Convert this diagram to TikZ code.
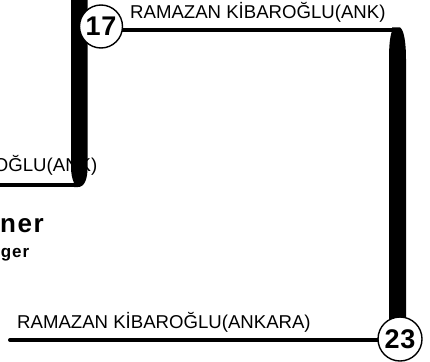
\documentclass[tikz,border=0pt]{standalone}
\usepackage{fontspec}
\setmainfont{Liberation Sans}
\pgfdeclareradialshading{badgeball}{\pgfpoint{0bp}{8bp}}{
 color(0bp)=(white); color(36bp)=(white); color(44bp)=(black!28); color(51bp)=(black!70); color(60bp)=(black)}
\tikzset{
 lbl/.style={font=\fontsize{18.6pt}{20pt}\selectfont,text=black,inner sep=0pt},
 boldlbl/.style={text=black,inner sep=0pt},
 thinline/.style={line width=4pt,black},
 thickline/.style={fill=black,draw=none},
 badge/.style={circle,shade,shading=badgeball,draw=black,line width=1.4pt,minimum size=43pt,inner sep=0pt,font=\bfseries\fontsize{27pt}{28pt}\selectfont\addfontfeatures{LetterSpace=3},text=black},
}
\begin{document}
\begin{tikzpicture}[x=1pt,y=-1pt]
\useasboundingbox (0,0) rectangle (430,361);
\node[lbl,anchor=base east] (lowerleft) at (97.5,171.5) {OĞLU(ANK)};
\node[lbl,anchor=base west] (top) at (130,18.5) {RAMAZAN KİBAROĞLU(ANK)};
\node[lbl,anchor=base west] (bottom) at (17,328) {RAMAZAN KİBAROĞLU(ANKARA)};
\node[boldlbl,anchor=base east,font=\bfseries\fontsize{26pt}{28pt}\selectfont] (ner) at (44,232) {\addfontfeatures{LetterSpace=6}ner};
\node[boldlbl,anchor=base east,font=\bfseries\fontsize{17pt}{19pt}\selectfont] (ger) at (29.5,257) {\addfontfeatures{LetterSpace=6}ger};
\coordinate (n17c) at (101,26.5);
\coordinate (n23c) at (400,339);
\coordinate (leftin) at (0,184.5);
\coordinate (leftup) at (80,184.5);
\coordinate (corner) at (398,29.7);
\coordinate (bottomstart) at (10,340);
\draw[thinline] (leftin) -- (leftup);
\draw[thinline] (n17c) -- (n17c |- corner) -- (corner);
\draw[thinline,line cap=round] (bottomstart) -- (n23c |- bottomstart);
\fill[thickline] (71,0) -- (87.5,0) -- (87.5,168) .. controls (87.5,178) and (85,187) .. (78,187) -- (74,187) -- (74,183) .. controls (72,178) and (71,174) .. (71,166) -- cycle;
\fill[thickline] (392,27.5) -- (400,27.5) .. controls (404,30) and (406,42) .. (406,60) -- (406,325) -- (389,325) -- (389,60) .. controls (389,48) and (389.5,38) .. (392,31) -- cycle;
\node[badge] (n17) at (n17c) {17};
\node[badge,minimum size=44pt] (n23) at (n23c) {23};
\end{tikzpicture}
\end{document}
